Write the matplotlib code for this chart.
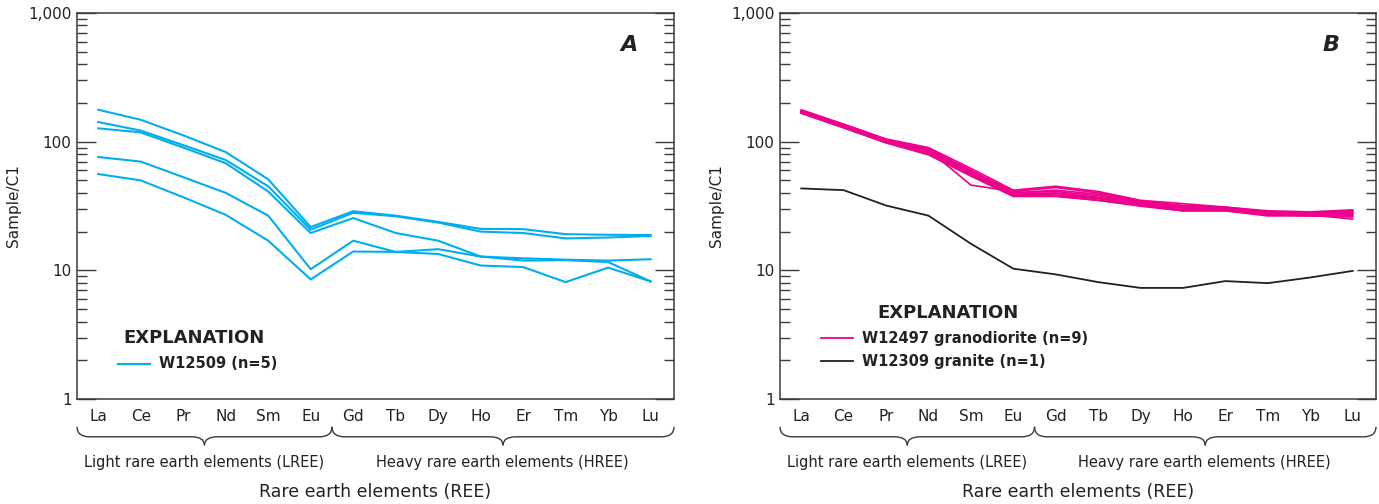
import matplotlib
matplotlib.use("Agg")
import matplotlib.pyplot as plt
import matplotlib.transforms as mtransforms
from matplotlib.path import Path
from matplotlib.patches import PathPatch
from matplotlib.ticker import LogLocator, FixedLocator, NullFormatter, FuncFormatter
from matplotlib import font_manager

names = {f.name for f in font_manager.fontManager.ttflist}
FAM = ['Liberation Sans Narrow', 'DejaVu Sans'] if 'Liberation Sans Narrow' in names else ['DejaVu Sans']
plt.rcParams['font.family'] = FAM

elements = ["La", "Ce", "Pr", "Nd", "Sm", "Eu", "Gd", "Tb", "Dy", "Ho", "Er", "Tm", "Yb", "Lu"]

# Panel A: W12509 (n=5)
w12509_1 = [177, 148, 112, 83, 51, 21.7, 28.8, 26.6, 23.8, 21.0, 20.9, 19.1, 18.9, 18.8]
w12509_2 = [142, 122, 94, 72, 45, 20.7, 28.0, 26.3, 23.5, 20.0, 19.5, 17.7, 18.0, 18.5]
w12509_3 = [127, 118, 90, 68, 41, 19.5, 25.5, 19.5, 17.0, 12.8, 12.4, 12.1, 11.9, 12.2]
w12509_4 = [76, 70, 53, 40, 26.6, 10.2, 17.0, 13.9, 14.6, 12.8, 11.9, 12.0, 11.6, 8.2]
w12509_5 = [56, 50, 37, 27, 17.0, 8.5, 14.0, 13.9, 13.4, 10.9, 10.6, 8.1, 10.5, 8.2]
panel_a = [w12509_1, w12509_2, w12509_3, w12509_4, w12509_5]

# Panel B: W12497 granodiorite (n=9)
w12497_1 = [177, 137, 105, 90, 62, 42.0, 45.0, 41.0, 35.0, 33.0, 31.0, 29.0, 28.5, 29.5]
w12497_2 = [174, 135, 103, 88, 60, 41.0, 44.0, 40.0, 34.5, 32.0, 31.0, 28.5, 28.0, 29.0]
w12497_3 = [172, 133, 102, 86, 59, 40.0, 42.0, 39.0, 34.0, 31.5, 30.5, 28.0, 28.0, 28.5]
w12497_4 = [170, 132, 100, 84, 58, 40.0, 41.0, 38.0, 33.5, 31.0, 30.0, 28.0, 27.5, 28.0]
w12497_5 = [169, 131, 100, 83, 57, 39.0, 40.0, 37.0, 33.0, 30.5, 30.0, 27.5, 27.0, 27.5]
w12497_6 = [168, 130, 99, 82, 56, 38.5, 39.5, 36.5, 32.5, 30.0, 29.5, 27.0, 27.0, 27.0]
w12497_7 = [167, 129, 98, 80, 55, 38.0, 38.5, 36.0, 32.0, 29.5, 29.5, 27.0, 26.5, 26.5]
w12497_8 = [166, 128, 98, 79, 54, 37.5, 37.5, 35.0, 31.5, 29.0, 29.0, 26.5, 26.5, 26.0]
w12497_9 = [170, 132, 101, 86, 46, 41.0, 38.0, 35.0, 32.0, 29.0, 29.0, 27.0, 27.0, 25.0]
panel_b_pink = [w12497_1, w12497_2, w12497_3, w12497_4, w12497_5,
                w12497_6, w12497_7, w12497_8, w12497_9]
# W12309 granite (n=1)
w12309 = [43.3, 42.0, 31.9, 26.6, 16.1, 10.3, 9.3, 8.1, 7.3, 7.3, 8.25, 7.95, 8.8, 9.9]

CYAN = "#00AEEF"
PINK = "#EC008C"
BLACK = "#231F20"
AXC = "#3a3a3a"
TXT = "#222222"

W, H = 1379, 504
fig = plt.figure(figsize=(W / 100, H / 100), dpi=100)

def px_axes(l, r, t, b):
    return [l / W, 1 - b / H, (r - l) / W, (b - t) / H]

axA = fig.add_axes(px_axes(77, 674, 13, 399))
axB = fig.add_axes(px_axes(780, 1376, 13, 399))

def brace(ax, x0, x1, y_top=-0.072, y_mid=-0.098, y_bot=-0.12, r=0.3):
    xm = (x0 + x1) / 2
    verts = [(x0, y_top), (x0, y_mid), (x0 + r, y_mid),
             (xm - r, y_mid), (xm, y_mid), (xm, y_bot),
             (xm, y_mid), (xm + r, y_mid),
             (x1 - r, y_mid), (x1, y_mid), (x1, y_top)]
    codes = [Path.MOVETO, Path.CURVE3, Path.CURVE3,
             Path.LINETO, Path.CURVE3, Path.CURVE3,
             Path.CURVE3, Path.CURVE3,
             Path.LINETO, Path.CURVE3, Path.CURVE3]
    trans = mtransforms.blended_transform_factory(ax.transData, ax.transAxes)
    p = PathPatch(Path(verts, codes), transform=trans, fill=False,
                  edgecolor=AXC, lw=1.0, clip_on=False)
    ax.add_patch(p)

def style(ax, letter):
    ax.set_yscale('log')
    ax.set_ylim(1, 1000)
    ax.set_xlim(-0.5, 13.55)
    ax.set_xticks(range(len(elements)))
    ax.set_xticklabels(elements, fontsize=11)
    ax.tick_params(axis='x', length=0, pad=7, colors=TXT)
    ax.yaxis.set_major_locator(FixedLocator([1, 10, 100, 1000]))
    ax.yaxis.set_major_formatter(FuncFormatter(lambda v, p: f"{int(round(v)):,}"))
    ax.yaxis.set_minor_locator(LogLocator(base=10, subs=range(2, 10)))
    ax.yaxis.set_minor_formatter(NullFormatter())
    ax.tick_params(axis='y', which='major', direction='in', length=13.5, width=1.0,
                   left=True, right=True, labelsize=11, pad=4, color=AXC, labelcolor=TXT)
    ax.tick_params(axis='y', which='minor', direction='in', length=7, width=1.0,
                   left=True, right=True, color=AXC)
    for s in ax.spines.values():
        s.set_color(AXC)
        s.set_linewidth(1.1)
    ax.set_ylabel("Sample/C1", fontsize=11, labelpad=5, color=TXT)
    brace(ax, -0.5, 5.5)
    brace(ax, 5.5, 13.55)
    bt = mtransforms.blended_transform_factory(ax.transData, ax.transAxes)
    ax.text(2.5, -0.165, "Light rare earth elements (LREE)", transform=bt,
            ha='center', va='center', fontsize=10.5, color=TXT)
    ax.text(9.5, -0.165, "Heavy rare earth elements (HREE)", transform=bt,
            ha='center', va='center', fontsize=10.5, color=TXT)
    ax.text(0.5, -0.24, "Rare earth elements (REE)", transform=ax.transAxes,
            ha='center', va='center', fontsize=12.5, color=TXT)
    ax.text(0.925, 0.918, letter, transform=ax.transAxes, ha='center', va='center',
            fontsize=16, fontweight='bold', fontstyle='italic', color=TXT)

x = list(range(len(elements)))
for s in panel_a:
    axA.plot(x, s, color=CYAN, lw=1.5)
for s in panel_b_pink:
    axB.plot(x, s, color=PINK, lw=1.2)
axB.plot(x, w12309, color=BLACK, lw=1.3)

style(axA, "A")
style(axB, "B")

def legend_item(ax, x0, x1, y, color, label, lw):
    ax.plot([x0, x1], [y, y], color=color, lw=lw, transform=ax.transAxes, clip_on=False)
    ax.text(x1 + 0.014, y, label, transform=ax.transAxes, ha='left', va='center',
            fontsize=10.5, fontweight='bold', color=TXT)

axA.text(0.077, 0.158, "EXPLANATION", transform=axA.transAxes, ha='left', va='center',
         fontsize=13, fontweight='bold', color=TXT)
legend_item(axA, 0.069, 0.123, 0.091, CYAN, "W12509 (n=5)", 1.5)

axB.text(0.163, 0.223, "EXPLANATION", transform=axB.transAxes, ha='left', va='center',
         fontsize=13, fontweight='bold', color=TXT)
legend_item(axB, 0.069, 0.123, 0.158, PINK, "W12497 granodiorite (n=9)", 1.3)
legend_item(axB, 0.069, 0.123, 0.098, BLACK, "W12309 granite (n=1)", 1.3)

fig.savefig("out.png", dpi=100)
